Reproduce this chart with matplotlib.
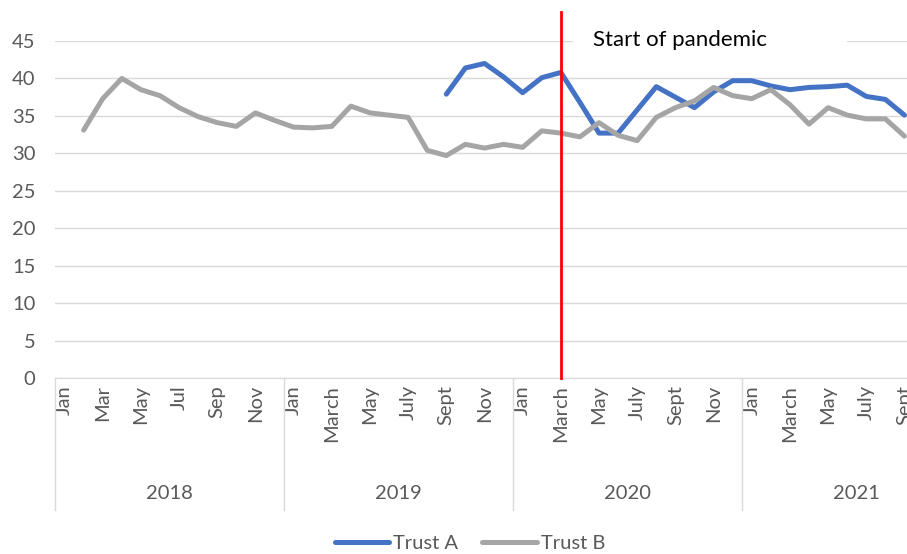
import numpy as np
import matplotlib.pyplot as plt
from matplotlib.patches import Rectangle

plt.rcParams['font.family'] = ['Lato', 'DejaVu Sans']

# monthly categories Jan 2018 .. Sept 2021
years = ['2018', '2019', '2020', '2021']
month_labels = ['Jan', '', 'Mar', '', 'May', '', 'Jul', '', 'Sep', '', 'Nov', '',
                'Jan', '', 'March', '', 'May', '', 'July', '', 'Sept', '', 'Nov', '',
                'Jan', '', 'March', '', 'May', '', 'July', '', 'Sept', '', 'Nov', '',
                'Jan', '', 'March', '', 'May', '', 'July', '', 'Sept']

nan = np.nan
trust_a = [nan] * 20 + [
    37.9, 41.4, 42.0, 40.2,
    38.1, 40.1, 40.8, 36.8, 32.7, 32.7, 35.8, 38.9, 37.5, 36.1, 38.2, 39.7,
    39.7, 39.0, 38.5, 38.8, 38.9, 39.1, 37.6, 37.2, 35.1]
trust_b = [nan,
    33.1, 37.3, 40.0, 38.5, 37.7, 36.1, 34.9, 34.1, 33.6, 35.4, 34.4,
    33.5, 33.4, 33.6, 36.3, 35.4, 35.1, 34.8, 30.4, 29.7, 31.2, 30.7, 31.2,
    30.8, 33.0, 32.7, 32.2, 34.1, 32.4, 31.7, 34.8, 36.1, 37.0, 38.8, 37.7,
    37.3, 38.5, 36.5, 33.9, 36.1, 35.1, 34.6, 34.6, 32.3]
pandemic_month = 26  # March 2020

x = np.arange(len(month_labels))

fig = plt.figure(figsize=(9.07, 5.54), dpi=100)
ax = fig.add_axes([55 / 907, 176 / 554, 859 / 907, 337 / 554])

ax.plot(x, trust_a, color='#4472C4', lw=3.6, solid_capstyle='round', label='Trust A', zorder=3)
ax.plot(x, trust_b, color='#A5A5A5', lw=3.6, solid_capstyle='round', label='Trust B', zorder=3)

ax.set_xlim(-0.5, len(x) - 0.5)
ax.set_ylim(0, 45)
ax.set_yticks(range(0, 46, 5))
ax.grid(axis='y', color='#D9D9D9', lw=1)
ax.set_axisbelow(True)
for s in ['top', 'right', 'left']:
    ax.spines[s].set_visible(False)
ax.spines['bottom'].set_color('#D9D9D9')
ax.tick_params(axis='y', length=0, pad=14, labelsize=14.5, labelcolor='#595959')

ticks = [i for i, m in enumerate(month_labels) if m]
ax.set_xticks(ticks)
ax.set_xticklabels([month_labels[i] for i in ticks], rotation=90)
ax.tick_params(axis='x', length=0, pad=5, labelsize=14.5, labelcolor='#595959')

# year grouping level
for k, yr in enumerate(years):
    start = k * 12 - 0.5
    ax.plot([start, start], [0, -0.392], transform=ax.get_xaxis_transform(),
            color='#D9D9D9', lw=1, clip_on=False)
    ax.text(k * 12 + 5.5, -0.343, yr, transform=ax.get_xaxis_transform(),
            ha='center', va='center', fontsize=14.5, color='#595959')

# pandemic marker
ax.plot([pandemic_month, pandemic_month], [0, 48.9], color='#FF0000', lw=2,
        clip_on=False, zorder=4)
ax.add_patch(Rectangle((26.65, 44.2), 14.35, 1.8, facecolor='white',
                       edgecolor='none', zorder=2))
ax.text(27.7, 45.1, 'Start of pandemic', fontsize=16, color='black',
        ha='left', va='center', zorder=5)

fig.legend(loc='lower center', ncol=2, frameon=False, bbox_to_anchor=(0.518, -0.03),
           fontsize=14.5, handlelength=2.7, columnspacing=1.2, handletextpad=0.2,
           labelcolor='#595959')

fig.savefig('out.png', dpi=100)
